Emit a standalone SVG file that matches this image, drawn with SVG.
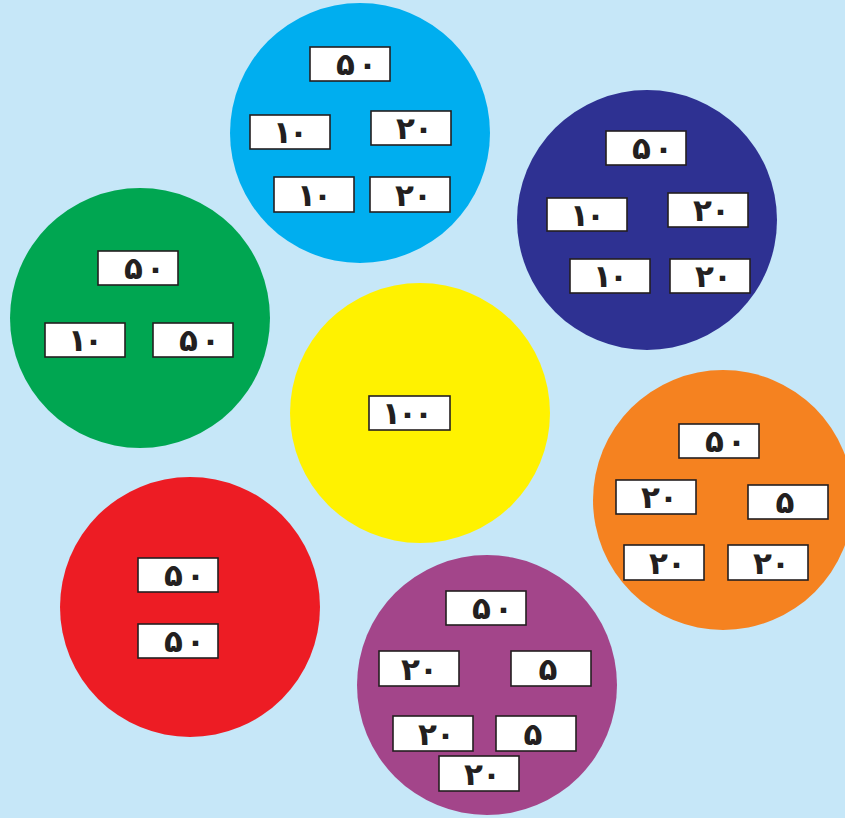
<svg xmlns="http://www.w3.org/2000/svg" width="845" height="818" viewBox="0 0 845 818">
<style>
.bx{fill:#ffffff;stroke:#231f20;stroke-width:1.6}
.t{font-family:"DejaVu Sans","Noto Sans",sans-serif;font-weight:bold;font-size:31px;fill:#231f20;text-anchor:middle;dominant-baseline:central}
</style>
<rect x="0" y="0" width="845" height="818" fill="#c6e7f8"/>
<g id="cyan">
<circle cx="360" cy="133" r="130" fill="#00aeef"/>
<rect class="bx" x="310" y="47" width="80" height="34"/><text class="t" x="356.5" y="64" textLength="41">۵۰</text>
<rect class="bx" x="250" y="115" width="80" height="34"/><text class="t" x="290.5" y="132" textLength="35">۱۰</text>
<rect class="bx" x="371" y="111" width="80" height="34"/><text class="t" x="414.5" y="128" textLength="37">۲۰</text>
<rect class="bx" x="274" y="177" width="80" height="35"/><text class="t" x="314.5" y="194.5" textLength="35">۱۰</text>
<rect class="bx" x="370" y="177" width="80" height="35"/><text class="t" x="413.5" y="194.5" textLength="37">۲۰</text>
</g>
<g id="navy">
<circle cx="647" cy="220" r="130" fill="#2e3192"/>
<rect class="bx" x="606" y="131" width="80" height="34"/><text class="t" x="652.5" y="148" textLength="41">۵۰</text>
<rect class="bx" x="547" y="198" width="80" height="33"/><text class="t" x="587.5" y="214.5" textLength="35">۱۰</text>
<rect class="bx" x="668" y="193" width="80" height="34"/><text class="t" x="711.5" y="210" textLength="37">۲۰</text>
<rect class="bx" x="570" y="259" width="80" height="34"/><text class="t" x="610.5" y="276" textLength="35">۱۰</text>
<rect class="bx" x="670" y="259" width="80" height="34"/><text class="t" x="713.5" y="276" textLength="37">۲۰</text>
</g>
<g id="green">
<circle cx="140" cy="318" r="130" fill="#00a651"/>
<rect class="bx" x="98" y="251" width="80" height="34"/><text class="t" x="144.5" y="268" textLength="41">۵۰</text>
<rect class="bx" x="45" y="323" width="80" height="34"/><text class="t" x="85.5" y="340" textLength="35">۱۰</text>
<rect class="bx" x="153" y="323" width="80" height="34"/><text class="t" x="199.5" y="340" textLength="41">۵۰</text>
</g>
<g id="yellow">
<circle cx="420" cy="413" r="130" fill="#fff200"/>
<rect class="bx" x="369" y="396" width="81" height="34"/><text class="t" x="407.5" y="413" textLength="51">۱۰۰</text>
</g>
<g id="orange">
<circle cx="723" cy="500" r="130" fill="#f58220"/>
<rect class="bx" x="679" y="424" width="80" height="34"/><text class="t" x="725.5" y="441" textLength="41">۵۰</text>
<rect class="bx" x="616" y="480" width="80" height="34"/><text class="t" x="659.5" y="497" textLength="37">۲۰</text>
<rect class="bx" x="748" y="485" width="80" height="34"/><text class="t" x="785" y="502">۵</text>
<rect class="bx" x="624" y="545" width="80" height="35"/><text class="t" x="667.5" y="562.5" textLength="37">۲۰</text>
<rect class="bx" x="728" y="545" width="80" height="35"/><text class="t" x="771.5" y="562.5" textLength="37">۲۰</text>
</g>
<g id="red">
<circle cx="190" cy="607" r="130" fill="#ed1c24"/>
<rect class="bx" x="138" y="558" width="80" height="34"/><text class="t" x="184.5" y="575" textLength="41">۵۰</text>
<rect class="bx" x="138" y="624" width="80" height="34"/><text class="t" x="184.5" y="641" textLength="41">۵۰</text>
</g>
<g id="purple">
<circle cx="487" cy="685" r="130" fill="#a3458a"/>
<rect class="bx" x="446" y="591" width="80" height="34"/><text class="t" x="492.5" y="608" textLength="41">۵۰</text>
<rect class="bx" x="379" y="651" width="80" height="35"/><text class="t" x="419.5" y="668.5" textLength="37">۲۰</text>
<rect class="bx" x="511" y="651" width="80" height="35"/><text class="t" x="548" y="668.5">۵</text>
<rect class="bx" x="393" y="716" width="80" height="35"/><text class="t" x="436.5" y="733.5" textLength="37">۲۰</text>
<rect class="bx" x="496" y="716" width="80" height="35"/><text class="t" x="533" y="733.5">۵</text>
<rect class="bx" x="439" y="756" width="80" height="35"/><text class="t" x="482.5" y="773.5" textLength="37">۲۰</text>
</g>
<g id="connectors"></g>
</svg>
